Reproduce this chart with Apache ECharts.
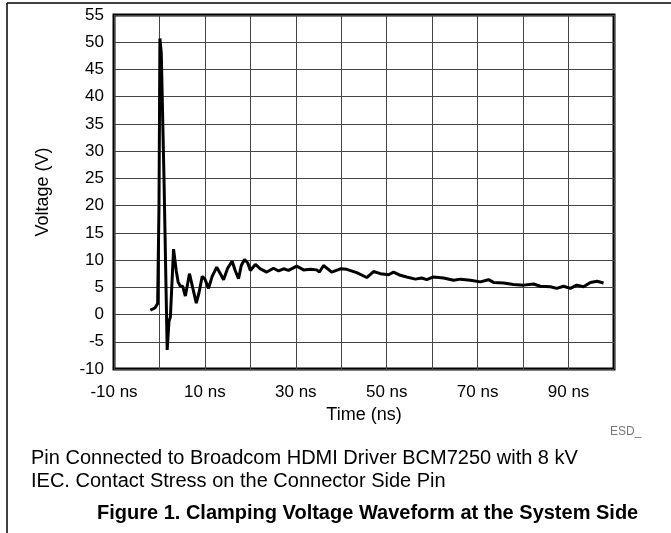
<!DOCTYPE html>
<html>
<head>
<meta charset="utf-8">
<style>
html,body{margin:0;padding:0;background:#fff;}
#chart{width:671px;height:533px;}
</style>
<script src="https://cdn.jsdelivr.net/npm/echarts@6/dist/echarts.min.js"></script>
</head>
<body>
<div id="chart"></div>
<script>
// Waveform data (time in ns, voltage in V)
var times = [-2.0, -1.0, -0.4, -0.1, 0.1, 0.4, 1.0, 1.7, 2.1, 2.4, 3.1, 3.7, 4.1, 4.6, 5.1, 5.7, 6.6, 7.3, 8.1, 8.7, 9.4, 10.0, 10.8, 11.6, 12.6, 13.4, 14.1, 15.0, 16.0, 16.7, 17.4, 18.0, 18.7, 19.4, 20.0, 21.1, 22.2, 23.6, 25.1, 26.2, 27.3, 28.4, 30.2, 31.7, 33.2, 34.6, 35.2, 36.1, 37.9, 39.8, 41.2, 43.4, 45.6, 47.1, 48.6, 50.4, 51.5, 53.0, 54.4, 56.3, 57.7, 58.8, 60.3, 62.5, 64.7, 66.2, 68.4, 70.6, 72.4, 73.5, 75.7, 77.9, 80.1, 82.3, 83.8, 86.0, 87.4, 88.9, 90.4, 91.8, 93.3, 94.8, 96.3, 97.7];
var volts = [0.8, 1.2, 2.0, 20, 50.7, 48, 25, -6.5, -1.2, -0.5, 12.0, 8.0, 6.0, 5.2, 5.2, 3.4, 7.5, 5.0, 2.1, 4.0, 7.0, 6.5, 4.8, 7.0, 8.7, 7.5, 6.4, 8.5, 9.8, 8.0, 6.6, 9.0, 10.1, 9.5, 8.1, 9.2, 8.4, 7.8, 8.5, 8.0, 8.4, 8.1, 8.9, 8.2, 8.3, 8.2, 7.8, 9.0, 7.8, 8.4, 8.3, 7.7, 6.8, 7.9, 7.5, 7.3, 7.8, 7.2, 6.9, 6.5, 6.7, 6.4, 6.9, 6.7, 6.3, 6.5, 6.3, 6.0, 6.4, 5.9, 5.8, 5.5, 5.4, 5.6, 5.2, 5.1, 4.8, 5.2, 4.8, 5.4, 5.1, 5.9, 6.1, 5.8];
var xTicks = {min: -10, max: 100, interval: 10};
var yTicks = {min: -10, max: 55, interval: 5};
var xName = 'Time (ns)';
var yName = 'Voltage (V)';
var noteText = 'ESD_';
var captionLines = ['Pin Connected to Broadcom HDMI Driver BCM7250 with 8 kV', 'IEC. Contact Stress on the Connector Side Pin'];
var figureTitle = 'Figure 1. Clamping Voltage Waveform at the System Side';

var seriesData = times.map(function (t, i) { return [t, volts[i]]; });
var FONT = '"Liberation Sans", Arial, sans-serif';

var chart = echarts.init(document.getElementById('chart'), null, {renderer: 'canvas'});
chart.setOption({
  animation: false,
  backgroundColor: '#fff',
  grid: {left: 114, right: 57, top: 15, bottom: 164, show: true, borderColor: '#000', borderWidth: 3, backgroundColor: 'transparent'},
  xAxis: {
    type: 'value', min: xTicks.min, max: xTicks.max, interval: xTicks.interval,
    name: xName, nameLocation: 'middle', nameGap: 34,
    nameTextStyle: {fontFamily: FONT, fontSize: 18, color: '#000'},
    axisLine: {show: false}, axisTick: {show: false},
    axisLabel: {
      fontFamily: FONT, fontSize: 17, color: '#000', margin: 15,
      formatter: function (v) { return ((v + 10) % 20 === 0 && v < 100) ? v + ' ns' : ''; }
    },
    splitLine: {show: true, lineStyle: {color: '#444', width: 1}}
  },
  yAxis: {
    type: 'value', min: yTicks.min, max: yTicks.max, interval: yTicks.interval,
    name: yName, nameLocation: 'middle', nameGap: 62,
    nameTextStyle: {fontFamily: FONT, fontSize: 18, color: '#000'},
    axisLine: {show: false}, axisTick: {show: false},
    axisLabel: {fontFamily: FONT, fontSize: 17, color: '#000', margin: 10},
    splitLine: {show: true, lineStyle: {color: '#444', width: 1}}
  },
  series: [{
    type: 'line', data: seriesData, showSymbol: false, smooth: false,
    lineStyle: {color: '#000', width: 3}, z: 5
  }],
  graphic: [
    {type: 'line', shape: {x1: 7, y1: 3, x2: 671, y2: 3}, style: {stroke: '#000', lineWidth: 1.5}},
    {type: 'line', shape: {x1: 7, y1: 3, x2: 7, y2: 533}, style: {stroke: '#000', lineWidth: 1.5}},
    {type: 'text', x: 610, y: 432, style: {text: noteText, font: '12px ' + FONT, fill: '#777', verticalAlign: 'middle'}},
    {type: 'text', x: 31, y: 458, style: {text: captionLines[0], font: '20px ' + FONT, fill: '#000', verticalAlign: 'middle'}},
    {type: 'text', x: 31, y: 481, style: {text: captionLines[1], font: '20px ' + FONT, fill: '#000', verticalAlign: 'middle'}},
    {type: 'text', x: 97, y: 513, style: {text: figureTitle, font: 'bold 20px ' + FONT, fill: '#000', verticalAlign: 'middle'}}
  ]
});
</script>
</body>
</html>
